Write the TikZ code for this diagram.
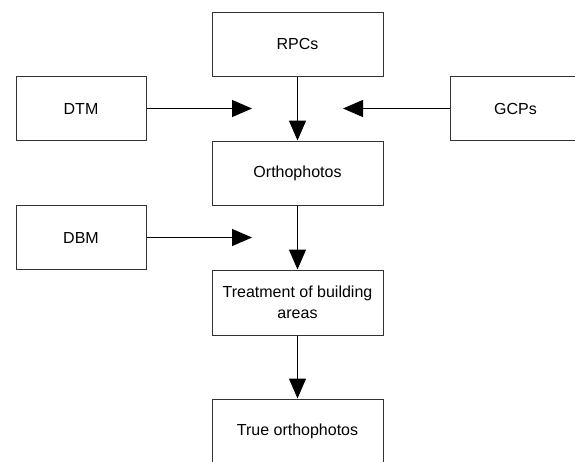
\documentclass[tikz,border=0pt]{standalone}
\usepackage{fontspec}
\setmainfont{Liberation Sans}
\usetikzlibrary{arrows.meta}
\begin{document}
\begin{tikzpicture}[x=1pt,y=-1pt,
  box/.style={draw=black!80, line width=1pt, minimum width=171pt, minimum height=64pt,
    inner sep=0pt, font=\fontsize{16}{21}\selectfont, align=center},
  sbox/.style={box, minimum width=130pt},
  arr/.style={line width=1.3pt, -{Triangle[length=20pt,width=17pt]}}]
\useasboundingbox (0,0) rectangle (575,461);
\clip (0,0) rectangle (575,461);
\node[box] (rpc) at (297.5,44) {RPCs};
\node[sbox] (dtm) at (81,108.5) {DTM};
\node[sbox] (gcp) at (515.5,108.5) {GCPs};
\node[box] (ortho) at (297.5,173) {Orthophotos};
\node[sbox] (dbm) at (81,237.5) {DBM};
\node[box, minimum height=65pt] (treat) at (297.5,302.5) {Treatment of building\\areas};
\node[box] (true) at (297.5,431) {True orthophotos};
\coordinate (dtmend) at (252,108.5);
\coordinate (gcpend) at (343,108.5);
\coordinate (dbmend) at (252,237.5);
\draw[arr] (rpc.south) -- (ortho.north);
\draw[arr] (dtm.east) -- (dtmend);
\draw[arr] (gcp.west) -- (gcpend);
\draw[arr] (dbm.east) -- (dbmend);
\draw[arr] (ortho.south) -- (treat.north);
\draw[arr] (treat.south) -- (true.north);
\end{tikzpicture}
\end{document}
